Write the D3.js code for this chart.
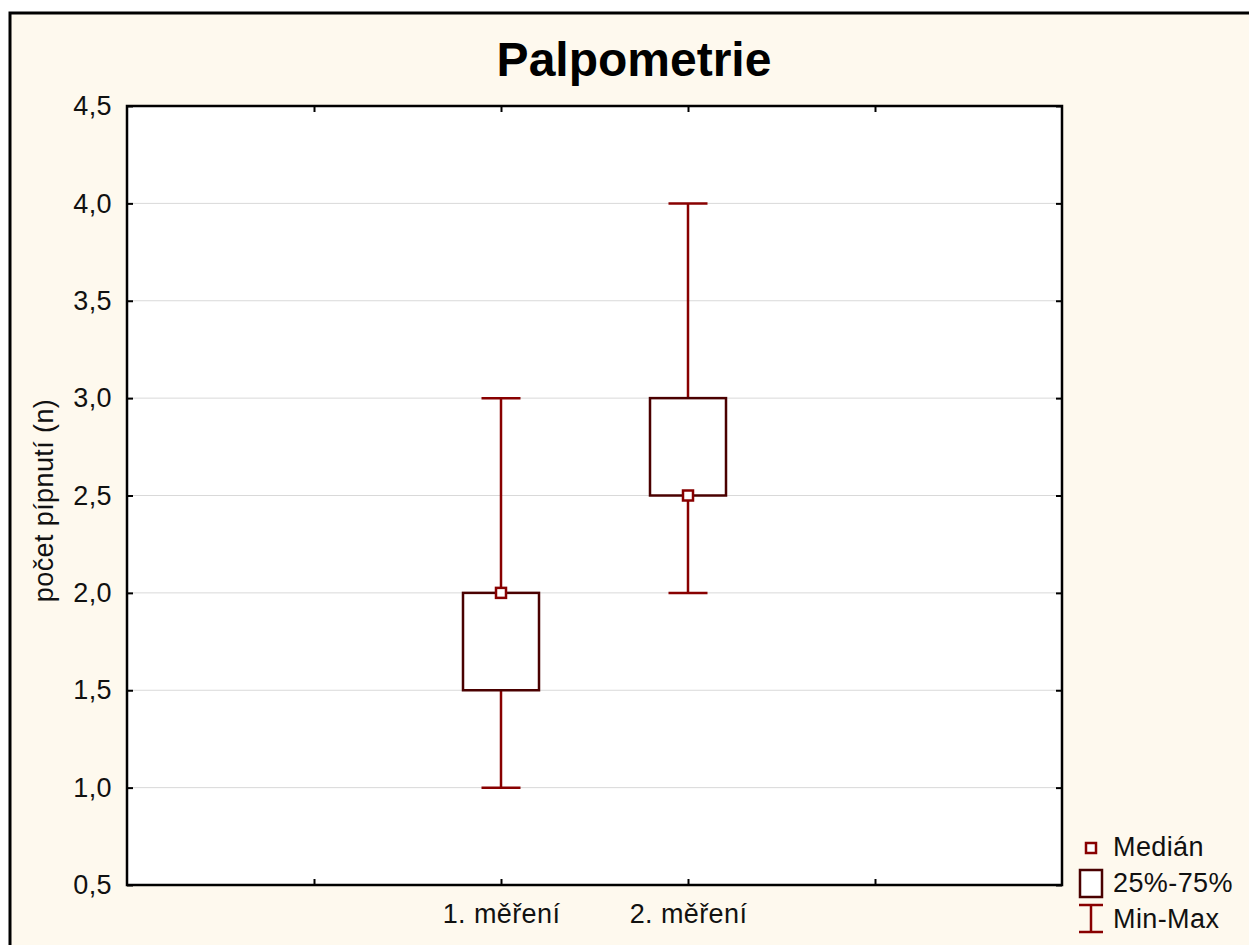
<!DOCTYPE html>
<html>
<head>
<meta charset="utf-8">
<script src="https://cdn.jsdelivr.net/npm/d3@7"></script>
<style>
  html, body { margin: 0; padding: 0; background: #fff; }
  #outer { width: 1249px; height: 945px; }
  text { font-family: 'Liberation Sans', Arial, sans-serif; }
</style>
</head>
<body>
<div id="outer"></div>
<script>
////////// Data //////////
const categories = ['', '1. měření', '2. měření', ''];
const minValues = [null, 1.0, 2.0, null];
const q1Values = [null, 1.5, 2.5, null];
const medianValues = [null, 2.0, 2.5, null];
const q3Values = [null, 2.0, 3.0, null];
const maxValues = [null, 3.0, 4.0, null];
const yTicks = [0.5, 1.0, 1.5, 2.0, 2.5, 3.0, 3.5, 4.0, 4.5];
const legendLabels = ['Medián', '25%-75%', 'Min-Max'];

////////// Sizing //////////
const W = 1249, H = 945;
const plot = { left: 127, top: 106, right: 1062, bottom: 885 };
const boxColor = '#4a0000';
const whiskerColor = '#880000';
const labelFont = '27px';
const labelSpacing = '0.4px';

const svg = d3.select('#outer').append('svg')
  .attr('width', W)
  .attr('height', H);

// background + outer frame
svg.append('rect')
  .attr('x', 10).attr('y', 13)
  .attr('width', W + 20).attr('height', H + 20)
  .attr('fill', '#fef9ee')
  .attr('stroke', '#000')
  .attr('stroke-width', 3);

// SCALES //
const x = d3.scaleLinear()
  .domain([0, categories.length + 1])
  .range([plot.left, plot.right]);
const y = d3.scaleLinear()
  .domain([0.5, 4.5])
  .range([plot.bottom, plot.top]);

// plot area
svg.append('rect')
  .attr('x', plot.left).attr('y', plot.top)
  .attr('width', plot.right - plot.left)
  .attr('height', plot.bottom - plot.top)
  .attr('fill', '#fff');

// gridlines
svg.append('g').selectAll('line')
  .data(yTicks.slice(1, -1))
  .join('line')
  .attr('x1', plot.left).attr('x2', plot.right)
  .attr('y1', d => y(d)).attr('y2', d => y(d))
  .attr('stroke', '#d9d9d9')
  .attr('stroke-width', 1);

// AXES //
const fmt = d => d3.format('.1f')(d).replace('.', ',');
const catIdx = d3.range(1, categories.length + 1);

const yAxis = svg.append('g')
  .attr('transform', `translate(${plot.left},0)`)
  .call(d3.axisLeft(y).tickValues(yTicks).tickFormat(fmt).tickSizeInner(-6).tickSizeOuter(0).tickPadding(15));
const yAxisR = svg.append('g')
  .attr('transform', `translate(${plot.right},0)`)
  .call(d3.axisRight(y).tickValues(yTicks).tickFormat('').tickSizeInner(-6).tickSizeOuter(0));
const xAxis = svg.append('g')
  .attr('transform', `translate(0,${plot.bottom})`)
  .call(d3.axisBottom(x).tickValues(catIdx).tickFormat(i => categories[i - 1]).tickSizeInner(-6).tickSizeOuter(0).tickPadding(19));
const xAxisT = svg.append('g')
  .attr('transform', `translate(0,${plot.top})`)
  .call(d3.axisTop(x).tickValues(catIdx).tickFormat('').tickSizeInner(-6).tickSizeOuter(0));

[yAxis, yAxisR, xAxis, xAxisT].forEach(g => {
  g.selectAll('.domain').remove();
  g.selectAll('.tick line').attr('stroke', '#000').attr('stroke-width', 2);
  g.selectAll('.tick text')
    .attr('fill', '#111')
    .style('font-family', "'Liberation Sans', Arial, sans-serif")
    .style('font-size', labelFont)
    .style('letter-spacing', labelSpacing);
});

// plot frame
svg.append('rect')
  .attr('x', plot.left).attr('y', plot.top)
  .attr('width', plot.right - plot.left)
  .attr('height', plot.bottom - plot.top)
  .attr('fill', 'none')
  .attr('stroke', '#000')
  .attr('stroke-width', 2.5);

// BOXES //
const boxW = 76, capW = 39, medS = 10;
const rows = catIdx.map(i => ({
  i, min: minValues[i - 1], q1: q1Values[i - 1], med: medianValues[i - 1],
  q3: q3Values[i - 1], max: maxValues[i - 1]
})).filter(d => d.min != null);

const boxG = svg.append('g').selectAll('g').data(rows).join('g');

// whiskers
boxG.append('line')
  .attr('x1', d => x(d.i)).attr('x2', d => x(d.i))
  .attr('y1', d => y(d.max)).attr('y2', d => y(d.q3))
  .attr('stroke', whiskerColor).attr('stroke-width', 2.5);
boxG.append('line')
  .attr('x1', d => x(d.i)).attr('x2', d => x(d.i))
  .attr('y1', d => y(d.q1)).attr('y2', d => y(d.min))
  .attr('stroke', whiskerColor).attr('stroke-width', 2.5);
boxG.append('line')
  .attr('x1', d => x(d.i) - capW / 2).attr('x2', d => x(d.i) + capW / 2)
  .attr('y1', d => y(d.max)).attr('y2', d => y(d.max))
  .attr('stroke', whiskerColor).attr('stroke-width', 2.5);
boxG.append('line')
  .attr('x1', d => x(d.i) - capW / 2).attr('x2', d => x(d.i) + capW / 2)
  .attr('y1', d => y(d.min)).attr('y2', d => y(d.min))
  .attr('stroke', whiskerColor).attr('stroke-width', 2.5);

// box
boxG.append('rect')
  .attr('x', d => x(d.i) - boxW / 2)
  .attr('y', d => y(d.q3))
  .attr('width', boxW)
  .attr('height', d => y(d.q1) - y(d.q3))
  .attr('fill', '#fff')
  .attr('stroke', boxColor)
  .attr('stroke-width', 2.5);

// median
boxG.append('rect')
  .attr('x', d => x(d.i) - medS / 2)
  .attr('y', d => y(d.med) - medS / 2)
  .attr('width', medS).attr('height', medS)
  .attr('fill', '#fff')
  .attr('stroke', whiskerColor)
  .attr('stroke-width', 2.5);

// TITLE //
svg.append('text')
  .attr('x', 634).attr('y', 76)
  .attr('text-anchor', 'middle')
  .style('font-size', '48px')
  .style('font-weight', 'bold')
  .attr('fill', '#000')
  .text('Palpometrie');

// Y LABEL //
svg.append('text')
  .attr('transform', `translate(53,${(plot.top + plot.bottom) / 2 + 5}) rotate(-90)`)
  .attr('text-anchor', 'middle')
  .style('font-size', labelFont)
  .style('letter-spacing', labelSpacing)
  .attr('fill', '#111')
  .text('počet pípnutí (n)');

// LEGEND //
const leg = svg.append('g');
const lx = 1091;
leg.append('rect')
  .attr('x', lx - 5).attr('y', 843).attr('width', 10).attr('height', 10)
  .attr('fill', '#fff').attr('stroke', whiskerColor).attr('stroke-width', 2.5);
leg.append('rect')
  .attr('x', lx - 11).attr('y', 870).attr('width', 22).attr('height', 27)
  .attr('fill', '#fff').attr('stroke', boxColor).attr('stroke-width', 2.5);
leg.append('line')
  .attr('x1', lx).attr('x2', lx).attr('y1', 905).attr('y2', 932)
  .attr('stroke', whiskerColor).attr('stroke-width', 2.5);
[905, 932].forEach(yy => leg.append('line')
  .attr('x1', lx - 12).attr('x2', lx + 12).attr('y1', yy).attr('y2', yy)
  .attr('stroke', whiskerColor).attr('stroke-width', 2.5));
leg.selectAll('text.lbl')
  .data(legendLabels)
  .join('text')
  .attr('class', 'lbl')
  .attr('x', 1113)
  .attr('y', (d, k) => 856 + k * 36)
  .style('font-size', labelFont)
  .style('letter-spacing', labelSpacing)
  .attr('fill', '#111')
  .text(d => d);
</script>
</body>
</html>
